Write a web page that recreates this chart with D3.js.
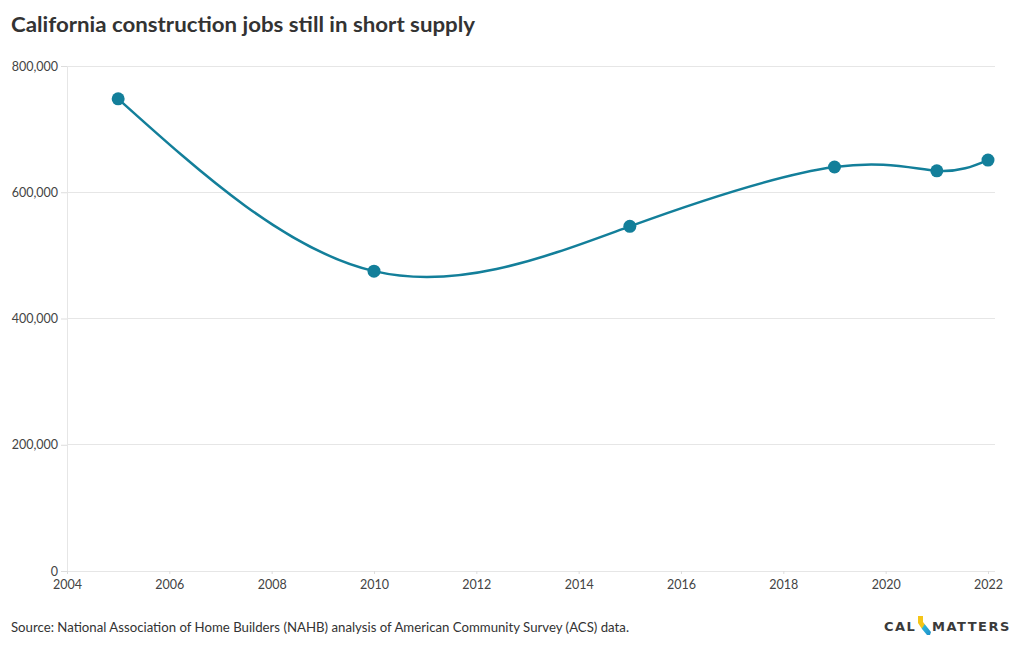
<!DOCTYPE html>
<html><head><meta charset="utf-8">
<script src="https://cdn.jsdelivr.net/npm/d3@7"></script>
<style>
body{margin:0;background:#fff;font-family:"Source Sans Pro",Lato,"Noto Sans",sans-serif;}
svg{display:block}
</style></head><body>
<svg id="c" width="1020" height="650"></svg>
<script>
const years = [2005, 2010, 2015, 2019, 2021, 2022];
const jobs = [748000, 475000, 546000, 640000, 634000, 651000];
const yTicks = [0, 200000, 400000, 600000, 800000];
const xTicks = [2004, 2006, 2008, 2010, 2012, 2014, 2016, 2018, 2020, 2022];
const title = "California construction jobs still in short supply";
const source = "Source: National Association of Home Builders (NAHB) analysis of American Community Survey (ACS) data.";

const svg = d3.select("#c");
const m = {l:67, r:995, t:66, b:571};
const x = d3.scaleLinear().domain([2004, 2022]).range([m.l, 988]);
const y = d3.scaleLinear().domain([0, 800000]).range([m.b, m.t]);
const font = "Lato, 'Noto Sans', sans-serif";

svg.append("text").attr("x", 11).attr("y", 32).text(title)
  .attr("font-family", font).attr("font-weight", 700).attr("font-size", 21.5)
  .attr("fill", "#333").attr("textLength", 464).attr("lengthAdjust","spacingAndGlyphs");

// grid
svg.append("g").selectAll("line").data(yTicks).join("line")
  .attr("x1", m.l).attr("x2", m.r).attr("y1", d=>y(d)).attr("y2", d=>y(d))
  .attr("stroke", "#e6e6e6").attr("stroke-width", 1).attr("shape-rendering","crispEdges");
svg.append("line").attr("x1", m.l).attr("x2", m.l).attr("y1", m.t).attr("y2", m.b)
  .attr("stroke", "#e6e6e6").attr("shape-rendering","crispEdges");

// y axis
const ya = svg.append("g").attr("transform", `translate(${m.l},0)`)
  .call(d3.axisLeft(y).tickValues(yTicks).tickFormat(d3.format(",")).tickSize(6).tickPadding(3));
ya.select(".domain").remove();
ya.selectAll("line").attr("stroke", "#ddd");
ya.selectAll("text").attr("font-family", font).attr("font-size", 12.5).attr("fill", "#444");

// x axis
const xa = svg.append("g").attr("transform", `translate(0,${m.b})`)
  .call(d3.axisBottom(x).tickValues(xTicks).tickFormat(d3.format("d")).tickSize(3).tickPadding(6));
xa.select(".domain").remove();
xa.selectAll("line").attr("stroke", "#ddd");
xa.selectAll("text").attr("font-family", font).attr("font-size", 12.5).attr("fill", "#444");

const data = years.map((yr,i)=>({yr, v:jobs[i]}));
const line = d3.line().x(d=>x(d.yr)).y(d=>y(d.v)).curve(d3.curveNatural);
svg.append("path").attr("d", line(data)).attr("fill","none")
  .attr("stroke","#137f9a").attr("stroke-width",2.5);
svg.append("g").selectAll("circle").data(data).join("circle")
  .attr("cx", d=>x(d.yr)).attr("cy", d=>y(d.v)).attr("r", 6.5).attr("fill","#137f9a");

svg.append("text").attr("x", 11).attr("y", 632).text(source)
  .attr("font-family", font).attr("font-size", 13.5).attr("fill", "#333")
  .attr("textLength", 618).attr("lengthAdjust","spacingAndGlyphs");

// logo
const lg = svg.append("g").attr("transform","translate(884,631)");
lg.append("text").attr("x",0).attr("y",0).text("CAL").attr("font-family","'DejaVu Sans',sans-serif")
  .attr("font-weight",700).attr("font-size",13).attr("fill","#3a3a3a").attr("letter-spacing",1.5);
const defs = svg.append("defs");
const gr = defs.append("linearGradient").attr("id","cg").attr("x1","0").attr("y1","0").attr("x2","1").attr("y2","1");
gr.append("stop").attr("offset","0").attr("stop-color","#f5c518");
gr.append("stop").attr("offset","0.45").attr("stop-color","#f5c518");
gr.append("stop").attr("offset","0.5").attr("stop-color","#2fb3d9");
gr.append("stop").attr("offset","1").attr("stop-color","#1c8ec9");
lg.append("path").attr("d","M34,-15 L39,-15 L39,-9 L47,1 L46,4 L43,4 L38,-2 L34,-8 Z").attr("fill","url(#cg)");
lg.append("text").attr("x",48).attr("y",0).text("MATTERS").attr("font-family","'DejaVu Sans',sans-serif")
  .attr("font-weight",700).attr("font-size",13).attr("fill","#3a3a3a").attr("letter-spacing",1.5);
</script></body></html>
